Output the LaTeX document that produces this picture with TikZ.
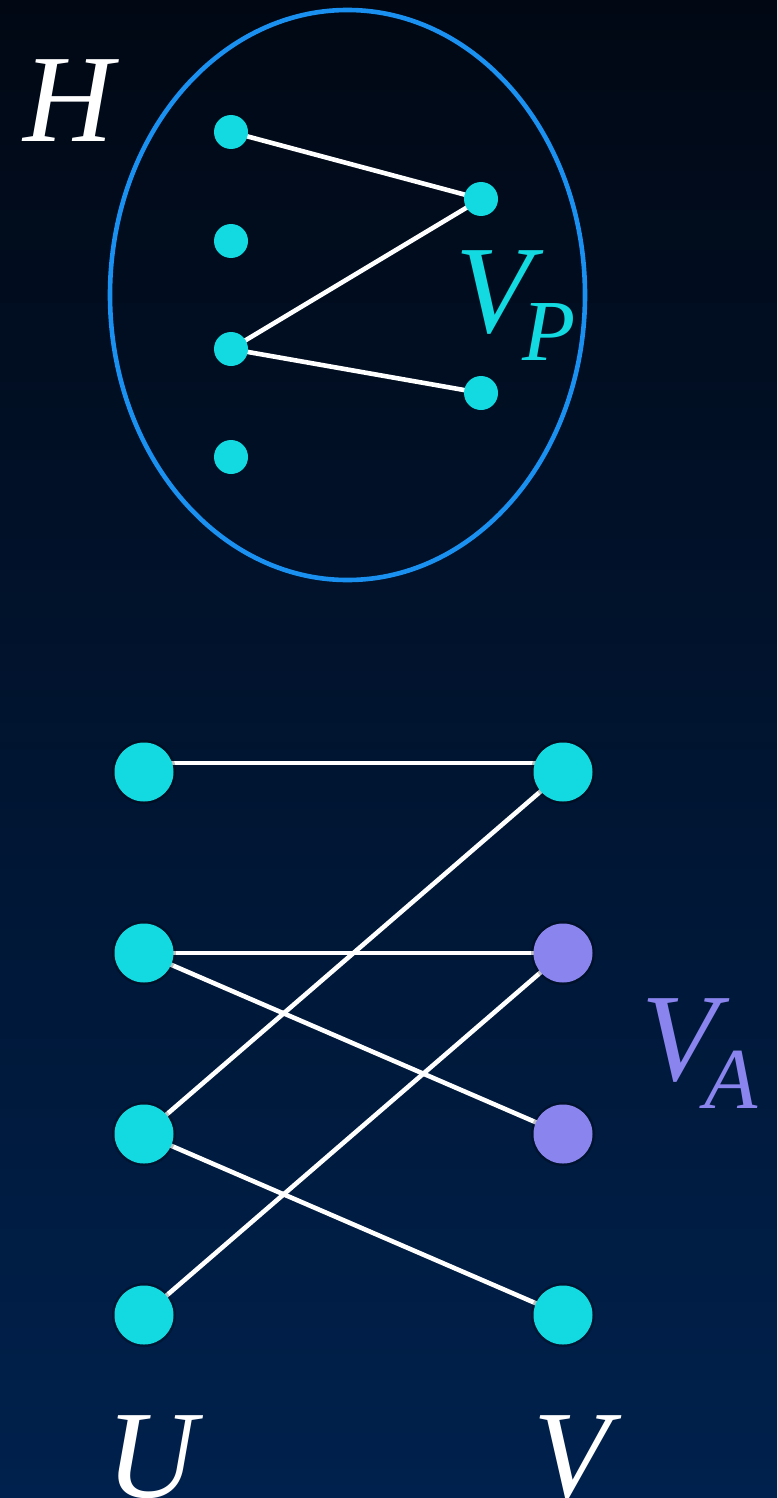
\documentclass[tikz,border=0pt]{standalone}
\usepackage{fontspec}
\setmainfont{Liberation Serif}
\usetikzlibrary{shapes.geometric}
\pgfdeclarelayer{bg}
\pgfdeclarelayer{edges}
\pgfsetlayers{bg,edges,main}
\definecolor{bgtop}{HTML}{010814}
\definecolor{bgbot}{HTML}{00214D}
\definecolor{vcyan}{HTML}{12DAE0}
\definecolor{vpurple}{HTML}{8A84EE}
\definecolor{ringblue}{HTML}{1A90F0}
\tikzset{
  smalldot/.style={circle, fill=vcyan, draw=none, inner sep=0pt, minimum size=34pt},
  bigdot/.style={circle, fill=#1, draw=none, inner sep=0pt, minimum size=59pt,
     preaction={draw=black, draw opacity=0.25, line width=5pt}},
  bigdot/.default=vcyan,
  edge/.style={draw=white, line width=4.6pt},
  biglabel/.style={inner sep=0pt, anchor=base, font=\fontsize{125}{125}\selectfont\itshape},
  sublabel/.style={inner sep=0pt, anchor=base, font=\fontsize{87}{87}\selectfont\itshape}
}
\begin{document}
\begin{tikzpicture}[x=1pt, y=-1pt]
\useasboundingbox (0,0) rectangle (777,1498);
\begin{pgfonlayer}{bg}
\shade[top color=bgtop, bottom color=bgbot] (0,0) rectangle (777,1498);
\end{pgfonlayer}
% ring H
\node[ellipse, draw=ringblue, line width=4.6pt, minimum width=475pt, minimum height=570pt, inner sep=0pt] (ring) at (347.5,295) {};
\node[biglabel, text=white] (H) at (69,142) {H};
% small graph
\node[smalldot] (a1) at (231,132) {};
\node[smalldot] (a2) at (231,241) {};
\node[smalldot] (a3) at (231,349) {};
\node[smalldot] (a4) at (231,457) {};
\node[smalldot] (b1) at (481,199) {};
\node[smalldot] (b2) at (481,393) {};
\node[biglabel, text=vcyan] (VP) at (494,332) {V};
\node[sublabel, text=vcyan] (VPs) at (549,360) {P};
% bipartite graph
\node[bigdot] (u1) at (144,772) {};
\node[bigdot] (u2) at (144,953) {};
\node[bigdot] (u3) at (144,1134) {};
\node[bigdot] (u4) at (144,1315) {};
\node[bigdot] (v1) at (563,772) {};
\node[bigdot=vpurple] (v2) at (563,953) {};
\node[bigdot=vpurple] (v3) at (563,1134) {};
\node[bigdot] (v4) at (563,1315) {};
\node[biglabel, text=vpurple] (VA) at (680,1080) {V};
\node[sublabel, text=vpurple] (VAs) at (731,1108) {A};
\node[biglabel, text=white] (U) at (152,1497) {U};
\node[biglabel, text=white] (V) at (572,1497) {V};
\begin{pgfonlayer}{edges}
\draw[edge] (a1.center) -- (b1.center);
\draw[edge] (b1.center) -- (a3.center);
\draw[edge] (a3.center) -- (b2.center);
\draw[edge] ([yshift=9pt]u1.center) -- ([yshift=9pt]v1.center);
\draw[edge] (u2.center) -- (v2.center);
\draw[edge] (v1.center) -- (u3.center);
\draw[edge] (u2.center) -- (v3.center);
\draw[edge] (v2.center) -- (u4.center);
\draw[edge] (u3.center) -- (v4.center);
\end{pgfonlayer}
\end{tikzpicture}
\end{document}
